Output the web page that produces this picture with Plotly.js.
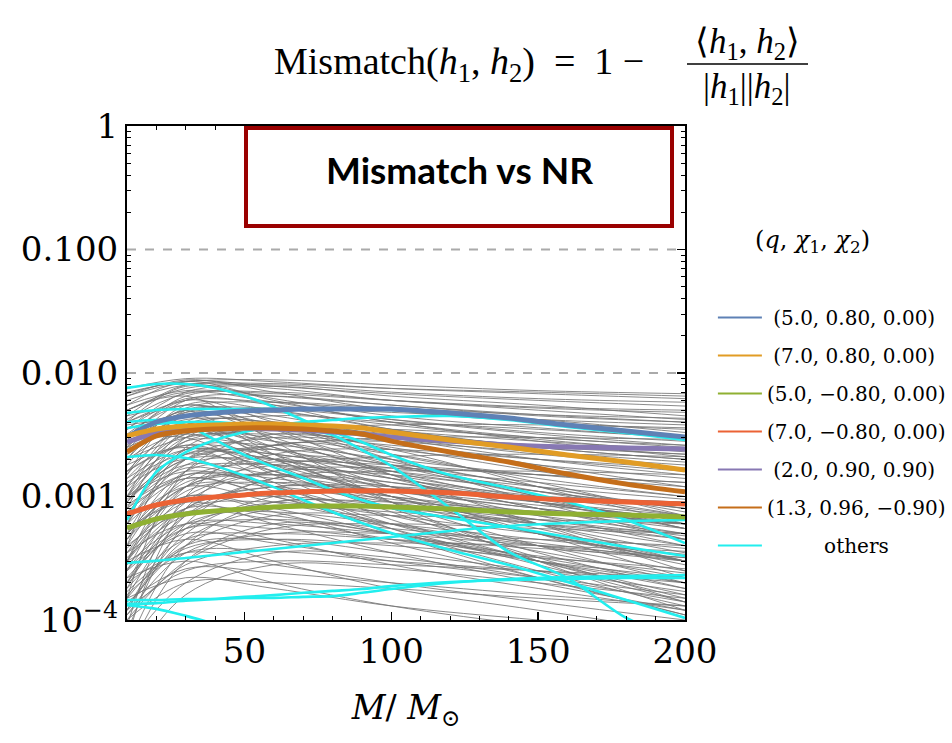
<!DOCTYPE html>
<html><head><meta charset="utf-8">
<script src="https://cdn.plot.ly/plotly-3.0.1.min.js"></script>
<style>html,body{margin:0;padding:0;background:#fff}</style>
</head><body><div id="chart" style="width:952px;height:743px"></div>
<script>
// Total mass M/Msun sample points for highlighted & cyan curves
const massM = [10,20,30,40,50,60,70,80,90,100,120,140,160,180,200];

// Highlighted configurations (q, chi1, chi2)
const legendNames = ["(5.0, 0.80, 0.00)","(7.0, 0.80, 0.00)","(5.0, \u22120.80, 0.00)","(7.0, \u22120.80, 0.00)","(2.0, 0.90, 0.90)","(1.3, 0.96, \u22120.90)","others"];
const mm_q50_080_000 = [0.00303,0.00401,0.00449,0.00474,0.00492,0.00501,0.00511,0.00511,0.00511,0.00511,0.00474,0.00432,0.00379,0.00339,0.00303];
const mm_q70_080_000 = [0.00309,0.00352,0.00372,0.00379,0.00386,0.00386,0.00379,0.00372,0.00359,0.00333,0.00287,0.00252,0.00217,0.00190,0.00164];
const mm_q50_m080_000 = [0.000556,0.000658,0.000722,0.000763,0.000792,0.000822,0.000838,0.000838,0.000838,0.000822,0.000792,0.000749,0.000722,0.000708,0.000682];
const mm_q70_m080_000 = [0.000722,0.000853,0.000937,0.000991,0.00103,0.00107,0.00109,0.00111,0.00111,0.00111,0.00107,0.000991,0.000937,0.000902,0.000869];
const mm_q20_090_090 = [0.00276,0.00327,0.00352,0.00359,0.00359,0.00352,0.00345,0.00333,0.00321,0.00303,0.00281,0.00261,0.00252,0.00247,0.00243];
const mm_q13_096_m090 = [0.00229,0.00309,0.00339,0.00352,0.00359,0.00359,0.00352,0.00339,0.00321,0.00281,0.00229,0.00190,0.00152,0.00126,0.00109];

// "others" (cyan) curves
const cyan1 = [0.00757,0.00815,0.00815,0.00757,0.00652,0.00531,0.00416,0.00333,0.00276,0.00217,0.00149,0.00117,0.000902,0.000646,0.000420];
const cyan2 = [0.00474,0.00501,0.00511,0.00511,0.00511,0.00511,0.00511,0.00511,0.00511,0.00501,0.00474,0.00432,0.00379,0.00339,0.00303];
const cyan3 = [0.00401,0.00416,0.00379,0.00287,0.00217,0.00173,0.00141,0.00113,0.000937,0.000807,0.000670,0.000566,0.000470,0.000390,0.000330];
const cyan4 = [0.00209,0.00217,0.00205,0.00177,0.00147,0.00119,0.000937,0.000749,0.000610,0.000506,0.000369,0.000279,0.000203,0.000145,0.000104];
const cyan5 = [0.000646,0.00158,0.00229,0.00287,0.00333,0.00372,0.00401,0.00416,0.00432,0.00440,0.00449,0.00416,0.00366,0.00327,0.00287];
const cyan6 = [0.000290,0.000301,0.000318,0.000336,0.000356,0.000376,0.000397,0.000420,0.000445,0.000470,0.000526,0.000577,0.000610,0.000634,0.000646];
const cyan7 = [0.000145,0.000145,0.000148,0.000148,0.000151,0.000151,0.000154,0.000156,0.000166,0.000178,0.000200,0.000215,0.000223,0.000227,0.000231];
const cyan8 = [0.000132,0.000123,0.000108,0.000093,0.000080,0.000070,0.000062,0.000056,0.000051,0.000047,0.000042,0.000038,0.000035,0.000033,0.000031];
const cyan9 = [0.000135,0.000137,0.000143,0.000148,0.000154,0.000159,0.000166,0.000172,0.000178,0.000188,0.000203,0.000211,0.000215,0.000219,0.000219];
const cyan10 = [0.00359,0.00386,0.00401,0.00401,0.00386,0.00366,0.00345,0.00315,0.00238,0.00177,0.000807,0.000356,0.000219,0.000104,0.0000689];

// Background (gray) curves, sampled at grayM
const grayM = [10,30,60,100,150,200];
const grayCurves = [
[7.0e-3,8.5e-3,8.8e-3,8.0e-3,7.2e-3,6.8e-3],[6.0e-3,8.0e-3,8.2e-3,7.5e-3,7.0e-3,6.5e-3],
[5.0e-3,7.5e-3,8.0e-3,7.0e-3,6.2e-3,5.8e-3],[4.5e-3,8.0e-3,7.5e-3,6.0e-3,5.2e-3,4.8e-3],
[3.5e-3,7.0e-3,7.8e-3,6.5e-3,5.5e-3,4.5e-3],[6.5e-3,8.8e-3,7.0e-3,5.0e-3,4.0e-3,3.5e-3],
[5.5e-3,8.5e-3,6.0e-3,4.0e-3,3.0e-3,2.6e-3],[3.0e-3,6.5e-3,7.0e-3,6.0e-3,5.0e-3,4.2e-3],
[2.5e-3,6.0e-3,6.5e-3,5.5e-3,4.5e-3,4.0e-3],[4.0e-3,7.8e-3,5.5e-3,3.5e-3,2.5e-3,2.0e-3],
[2.0e-3,5.5e-3,5.0e-3,3.5e-3,2.5e-3,2.0e-3],[1.5e-3,5.0e-3,4.5e-3,3.0e-3,2.0e-3,1.5e-3],
[3.0e-3,6.0e-3,4.0e-3,2.2e-3,1.4e-3,1.0e-3],[1.2e-3,4.0e-3,5.0e-3,4.2e-3,3.3e-3,2.8e-3],
[8.0e-4,3.5e-3,4.5e-3,4.0e-3,3.5e-3,3.0e-3],[2.5e-3,5.0e-3,3.0e-3,1.5e-3,8.0e-4,5.0e-4],
[1.8e-3,4.5e-3,3.5e-3,2.0e-3,1.2e-3,8.0e-4],[1.0e-3,3.8e-3,4.0e-3,3.0e-3,2.2e-3,1.8e-3],
[6.0e-4,3.0e-3,3.8e-3,3.2e-3,2.6e-3,2.2e-3],[4.0e-4,2.5e-3,3.5e-3,3.5e-3,3.0e-3,2.5e-3],
[3.5e-3,4.5e-3,2.5e-3,1.2e-3,6.0e-4,3.5e-4],[2.2e-3,4.0e-3,2.8e-3,1.6e-3,9.0e-4,6.0e-4],
[1.4e-3,3.2e-3,3.0e-3,2.4e-3,1.8e-3,1.4e-3],[9.0e-4,2.8e-3,3.2e-3,2.8e-3,2.3e-3,1.9e-3],
[5.0e-4,2.0e-3,3.0e-3,2.6e-3,2.0e-3,1.6e-3],[3.0e-4,1.6e-3,2.6e-3,2.8e-3,2.5e-3,2.2e-3],
[1.6e-3,3.5e-3,2.0e-3,1.0e-3,5.0e-4,2.8e-4],[1.1e-3,2.8e-3,2.4e-3,1.6e-3,1.1e-3,8.0e-4],
[7.0e-4,2.4e-3,2.6e-3,2.0e-3,1.5e-3,1.2e-3],[2.5e-4,1.2e-3,2.2e-3,2.4e-3,2.0e-3,1.7e-3],
[1.3e-3,2.2e-3,1.6e-3,9.0e-4,5.0e-4,3.0e-4],[9.0e-4,2.0e-3,1.8e-3,1.3e-3,9.0e-4,6.5e-4],
[6.0e-4,1.8e-3,2.0e-3,1.6e-3,1.2e-3,9.5e-4],[4.0e-4,1.4e-3,1.9e-3,1.8e-3,1.5e-3,1.3e-3],
[2.0e-4,9.0e-4,1.6e-3,1.7e-3,1.5e-3,1.3e-3],[1.5e-4,7.0e-4,1.4e-3,1.6e-3,1.6e-3,1.5e-3],
[1.0e-3,1.6e-3,1.2e-3,7.0e-4,4.0e-4,2.5e-4],[7.5e-4,1.5e-3,1.4e-3,1.0e-3,7.0e-4,5.0e-4],
[5.0e-4,1.3e-3,1.5e-3,1.2e-3,9.0e-4,7.0e-4],[3.5e-4,1.1e-3,1.3e-3,1.1e-3,8.0e-4,6.0e-4],
[2.5e-4,8.0e-4,1.2e-3,1.2e-3,1.0e-3,9.0e-4],[1.2e-4,5.0e-4,1.0e-3,1.1e-3,1.0e-3,9.0e-4],
[1.8e-3,2.5e-3,1.3e-3,5.5e-4,2.5e-4,1.3e-4],[1.2e-3,2.0e-3,1.1e-3,5.0e-4,2.2e-4,1.1e-4],
[8.0e-4,1.7e-3,1.2e-3,6.0e-4,3.0e-4,1.6e-4],[2.8e-3,3.0e-3,1.5e-3,6.5e-4,3.0e-4,1.5e-4],
[2.0e-3,3.2e-3,1.8e-3,8.0e-4,3.5e-4,1.8e-4],[4.5e-3,5.0e-3,2.2e-3,9.0e-4,4.0e-4,2.0e-4],
[3.8e-3,4.0e-3,2.0e-3,1.0e-3,5.0e-4,3.0e-4],[6.0e-4,1.2e-3,9.0e-4,6.0e-4,4.0e-4,3.0e-4],
[4.5e-4,1.0e-3,8.0e-4,5.0e-4,3.0e-4,2.0e-4],[3.0e-4,8.0e-4,9.0e-4,7.0e-4,5.0e-4,3.8e-4],
[2.0e-4,6.0e-4,8.0e-4,7.5e-4,6.0e-4,5.0e-4],[1.3e-4,4.0e-4,7.0e-4,7.0e-4,6.5e-4,6.0e-4],
[1.0e-4,3.0e-4,5.5e-4,6.0e-4,5.5e-4,5.0e-4],[5.5e-4,9.0e-4,6.0e-4,3.5e-4,2.0e-4,1.2e-4],
[4.0e-4,7.5e-4,6.5e-4,4.5e-4,3.0e-4,2.2e-4],[2.8e-4,6.0e-4,6.0e-4,5.0e-4,4.0e-4,3.2e-4],
[1.8e-4,4.5e-4,5.0e-4,4.5e-4,3.8e-4,3.2e-4],[1.1e-4,2.8e-4,4.0e-4,4.2e-4,4.0e-4,3.6e-4],
[3.5e-4,6.0e-4,4.5e-4,2.8e-4,1.8e-4,1.2e-4],[2.5e-4,5.0e-4,4.2e-4,3.0e-4,2.2e-4,1.6e-4],
[1.6e-4,3.5e-4,3.6e-4,3.0e-4,2.5e-4,2.0e-4],[1.2e-4,2.5e-4,3.0e-4,2.8e-4,2.5e-4,2.2e-4],
[3.0e-4,4.5e-4,3.0e-4,1.8e-4,1.2e-4,8.0e-5],[2.0e-4,3.5e-4,2.8e-4,2.0e-4,1.4e-4,1.0e-4],
[1.4e-4,2.6e-4,2.4e-4,2.0e-4,1.6e-4,1.3e-4],[1.0e-4,2.0e-4,2.0e-4,1.8e-4,1.5e-4,1.3e-4],
[2.2e-4,3.0e-4,2.0e-4,1.3e-4,9.0e-5,7.0e-5],[1.5e-4,2.2e-4,1.8e-4,1.3e-4,1.0e-4,8.0e-5],
[5.0e-3,6.5e-3,2.8e-3,9.0e-4,3.0e-4,1.2e-4],[3.2e-3,5.5e-3,3.5e-3,1.5e-3,6.0e-4,2.5e-4],
[2.6e-3,4.8e-3,3.8e-3,2.0e-3,9.0e-4,4.5e-4],[1.5e-3,3.8e-3,3.2e-3,1.8e-3,1.0e-3,5.5e-4],
[1.0e-3,3.0e-3,2.8e-3,1.9e-3,1.2e-3,7.5e-4],[7.0e-4,2.2e-3,2.2e-3,1.5e-3,9.5e-4,6.0e-4],
[4.5e-4,1.6e-3,1.8e-3,1.4e-3,9.0e-4,5.5e-4],[3.0e-4,1.2e-3,1.5e-3,1.3e-3,9.0e-4,6.5e-4],
[1.8e-4,8.0e-4,1.2e-3,1.1e-3,8.5e-4,6.5e-4],[1.2e-4,5.5e-4,9.0e-4,9.0e-4,7.5e-4,6.0e-4],
[2.0e-3,3.0e-3,3.5e-3,3.8e-3,3.8e-3,3.6e-3],[1.0e-3,2.0e-3,2.6e-3,3.0e-3,3.0e-3,2.9e-3],
[5.0e-4,1.2e-3,1.8e-3,2.1e-3,2.2e-3,2.1e-3],[3.0e-3,5.0e-3,5.2e-3,4.8e-3,4.2e-3,3.8e-3],
[4.0e-3,6.0e-3,5.8e-3,5.0e-3,4.2e-3,3.3e-3],[5.5e-3,7.2e-3,6.5e-3,5.5e-3,4.6e-3,4.0e-3],
[2.8e-3,4.2e-3,4.0e-3,3.4e-3,2.8e-3,2.4e-3],[1.6e-3,2.6e-3,2.2e-3,1.7e-3,1.3e-3,1.0e-3],
[8.5e-4,1.5e-3,1.3e-3,1.0e-3,7.5e-4,5.5e-4],[2.2e-3,3.6e-3,2.5e-3,1.4e-3,8.0e-4,4.5e-4],
[6.5e-3,8.2e-3,6.2e-3,4.5e-3,3.6e-3,3.0e-3],[7.5e-3,9.0e-3,8.5e-3,7.5e-3,6.8e-3,6.2e-3],
[3.8e-4,9.0e-4,1.0e-3,8.5e-4,6.5e-4,4.8e-4],[2.2e-4,5.5e-4,6.5e-4,5.5e-4,4.2e-4,3.0e-4],
[1.1e-4,3.5e-4,5.0e-4,5.0e-4,4.5e-4,4.0e-4],[6.5e-4,1.4e-3,1.0e-3,6.0e-4,3.6e-4,2.2e-4],
[9.5e-4,1.8e-3,1.5e-3,1.1e-3,8.0e-4,6.0e-4],[1.4e-3,2.4e-3,2.0e-3,1.4e-3,1.0e-3,7.0e-4],
[3.2e-4,7.0e-4,7.5e-4,6.0e-4,4.5e-4,3.4e-4],[1.7e-4,3.8e-4,4.5e-4,4.0e-4,3.2e-4,2.6e-4],
[6.0e-5,4.0e-4,9.0e-4,8.0e-4,5.0e-4,3.0e-4],[8.0e-5,6.0e-4,1.4e-3,1.2e-3,7.0e-4,4.0e-4],
[5.0e-5,3.0e-4,6.0e-4,5.0e-4,3.0e-4,1.8e-4],[7.0e-5,8.0e-4,2.0e-3,1.8e-3,1.0e-3,5.5e-4],
[9.0e-5,1.0e-3,2.6e-3,2.2e-3,1.3e-3,7.0e-4],[1.5e-4,1.6e-3,3.2e-3,2.4e-3,1.2e-3,6.0e-4],
[6.0e-5,2.0e-4,3.5e-4,3.2e-4,2.2e-4,1.4e-4],[4.0e-5,1.6e-4,2.8e-4,2.6e-4,2.0e-4,1.5e-4],
[2.5e-3,3.5e-3,2.2e-3,1.1e-3,5.0e-4,2.2e-4],[1.6e-3,2.6e-3,1.6e-3,7.5e-4,3.2e-4,1.4e-4],
[9.0e-4,2.2e-3,2.0e-3,1.2e-3,6.0e-4,3.0e-4],[4.0e-3,5.5e-3,4.2e-3,2.8e-3,1.8e-3,1.2e-3],
[5.0e-3,7.0e-3,5.8e-3,4.0e-3,2.8e-3,2.1e-3],[3.5e-3,6.2e-3,5.5e-3,4.2e-3,3.2e-3,2.6e-3],
[2.0e-3,4.8e-3,4.8e-3,3.8e-3,2.9e-3,2.3e-3],[1.2e-3,3.2e-3,3.5e-3,2.5e-3,1.6e-3,1.1e-3],
[6.0e-4,2.0e-3,2.4e-3,1.8e-3,1.1e-3,7.0e-4],[3.0e-4,1.0e-3,1.6e-3,1.5e-3,1.1e-3,8.0e-4],
[2.0e-4,7.0e-4,1.1e-3,9.5e-4,6.5e-4,4.5e-4],[1.2e-4,4.5e-4,8.0e-4,8.0e-4,6.0e-4,4.5e-4],
[8.0e-4,1.4e-3,1.0e-3,5.5e-4,2.8e-4,1.4e-4],[5.0e-4,1.0e-3,7.5e-4,4.2e-4,2.2e-4,1.1e-4],
[3.5e-4,8.0e-4,7.0e-4,5.0e-4,3.2e-4,2.0e-4],[2.6e-4,5.5e-4,5.5e-4,4.5e-4,3.3e-4,2.4e-4],
[1.5e-4,4.0e-4,4.5e-4,3.5e-4,2.5e-4,1.7e-4],[6.8e-3,8.6e-3,7.8e-3,6.8e-3,6.0e-3,5.4e-3],
[4.2e-3,6.8e-3,6.8e-3,6.0e-3,5.3e-3,5.0e-3],[2.4e-3,5.2e-3,5.8e-3,5.2e-3,4.6e-3,4.3e-3],
[1.0e-3,2.4e-3,1.8e-3,1.0e-3,5.5e-4,3.0e-4],[4.5e-4,1.2e-3,1.2e-3,9.0e-4,6.0e-4,4.0e-4]
];

// Axis tick labels
const xTickVals = [50,100,150,200];
const yTickVals = [1e-4,1e-3,1e-2,1e-1,1];
const yTickText = ["10<sup>\u22124</sup>","0.001","0.010","0.100","1"];

const highlightSeries = [mm_q50_080_000, mm_q70_080_000, mm_q50_m080_000, mm_q70_m080_000, mm_q20_090_090, mm_q13_096_m090];
const highlightColors = ["#5E81B5","#E19C24","#8FB032","#EB6235","#8778B3","#C56E1A"];
const cyanSeries = [cyan1,cyan2,cyan3,cyan4,cyan5,cyan6,cyan7,cyan8,cyan9,cyan10];
const cyanColor = "#22EEEE";

const traces = [];
grayCurves.forEach(v => traces.push({x: grayM, y: v, type:'scatter', mode:'lines', line:{color:'#757575', width:0.85, shape:'spline', smoothing:1}, showlegend:false, hoverinfo:'skip'}));
cyanSeries.forEach(v => traces.push({x: massM, y: v, type:'scatter', mode:'lines', line:{color:cyanColor, width:2.6, shape:'spline', smoothing:0.8}, showlegend:false}));
// draw order: purple under orange/brown
const drawOrder = [4,0,2,3,1,5];
drawOrder.forEach(i => traces.push({x: massM, y: highlightSeries[i], type:'scatter', mode:'lines', name: legendNames[i], line:{color:highlightColors[i], width:5, shape:'spline', smoothing:0.8}, showlegend:false}));
// legend entries (thin sample lines)
const legendColors = highlightColors.concat([cyanColor]);
const pads = [1,1,0,0,1,0,9];
legendNames.forEach((n,i) => traces.push({x:[null], y:[null], type:'scatter', mode:'lines', name:'\u00a0'.repeat(pads[i]) + n, legendgroup:'g'+i, line:{color:legendColors[i], width:2}, showlegend:true}));

const serif = "DejaVu Serif, serif";
const L = 127, R = 685, T = 126, B = 620;
const px = v => (v - L)/(R - L);
const py = v => (B - v)/(B - T);

const layout = {
  width:952, height:743,
  margin:{l:L, r:952-R, t:T, b:743-B, autoexpand:false},
  paper_bgcolor:'#fff', plot_bgcolor:'#fff',
  font:{family:serif, color:'#000'},
  xaxis:{range:[10,200], tickmode:'array', tickvals:xTickVals, ticks:'inside', ticklen:8, tickwidth:1.5, tickcolor:'#000',
    minor:{dtick:10, tick0:0, ticks:'inside', ticklen:4, tickwidth:1, tickcolor:'#000'},
    showline:true, linecolor:'#000', linewidth:2, mirror:'allticks', showgrid:false, zeroline:false,
    tickfont:{family:serif, size:34},
    title:{text:'<i>M</i>/\u00a0<i>M</i><sub>\u2299</sub>', font:{family:serif, size:33}, standoff:26}},
  yaxis:{type:'log', range:[-4,0], tickmode:'array', tickvals:yTickVals, ticktext:yTickText, ticks:'inside', ticklen:8, tickwidth:1.5, tickcolor:'#000',
    minor:{dtick:'D1', ticks:'inside', ticklen:4, tickwidth:1, tickcolor:'#000'},
    showline:true, linecolor:'#000', linewidth:2, mirror:'allticks', showgrid:false, zeroline:false,
    tickfont:{family:serif, size:34}},
  showlegend:true,
  legend:{x:1.05, xanchor:'left', y:py(298), yanchor:'top', font:{family:serif, size:20}, tracegroupgap:9, itemwidth:44, bgcolor:'rgba(0,0,0,0)', traceorder:'grouped'},
  shapes:[
    {type:'line', xref:'paper', yref:'y', x0:0, x1:1, y0:0.1, y1:0.1, line:{color:'#aaaaaa', width:2, dash:'dash'}},
    {type:'line', xref:'paper', yref:'y', x0:0, x1:1, y0:0.01, y1:0.01, line:{color:'#aaaaaa', width:2, dash:'dash'}},
    {type:'rect', xref:'paper', yref:'paper', x0:px(246), x1:px(672), y0:py(226), y1:py(128), line:{color:'#9a0000', width:4}, fillcolor:'#fff', layer:'above'},
    {type:'line', xref:'paper', yref:'paper', x0:px(687), x1:px(808), y0:py(64), y1:py(64), line:{color:'#000', width:1.5}}
  ],
  annotations:[
    {xref:'paper', yref:'paper', x:px(459), y:py(170), text:'<b>Mismatch vs NR</b>', showarrow:false, font:{family:'Lato, sans-serif', size:37, color:'#000'}, xanchor:'center', yanchor:'middle'},
    {xref:'paper', yref:'paper', x:px(646), y:py(64), text:'Mismatch(<i>h</i><sub>1</sub>,\u00a0<i>h</i><sub>2</sub>) \u00a0= \u00a01 \u2212', showarrow:false, font:{family:'Liberation Serif, serif', size:38}, xanchor:'right', yanchor:'middle'},
    {xref:'paper', yref:'paper', x:px(747), y:py(43), text:'\u27e8<i>h</i><sub>1</sub>, <i>h</i><sub>2</sub>\u27e9', showarrow:false, font:{family:'Liberation Serif, serif', size:35}, xanchor:'center', yanchor:'middle'},
    {xref:'paper', yref:'paper', x:px(747), y:py(88), text:'|<i>h</i><sub>1</sub>||<i>h</i><sub>2</sub>|', showarrow:false, font:{family:'Liberation Serif, serif', size:35}, xanchor:'center', yanchor:'middle'},
    {xref:'paper', yref:'paper', x:px(812), y:py(241), text:'(<i>q</i>, <i>\u03c7</i><sub>1</sub>, <i>\u03c7</i><sub>2</sub>)', showarrow:false, font:{family:serif, size:24}, xanchor:'center', yanchor:'middle'}
  ]
};
Plotly.newPlot('chart', traces, layout, {displayModeBar:false, staticPlot:true});
</script></body></html>
